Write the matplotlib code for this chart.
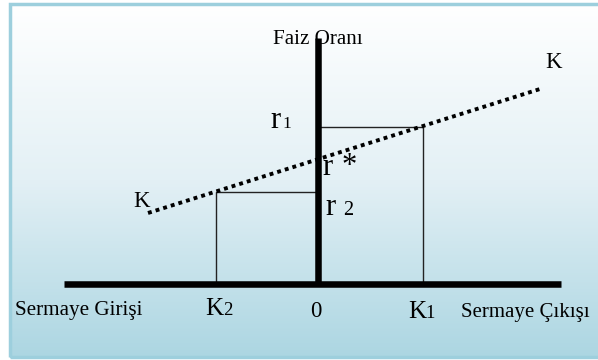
import numpy as np
import matplotlib.pyplot as plt
from matplotlib.colors import LinearSegmentedColormap
from matplotlib.patches import Rectangle

plt.rcParams['font.family'] = ['Liberation Serif', 'DejaVu Serif']

# sermaye hareketleri - faiz orani diyagrami (origin = 0 noktasi)
x_axis = [-254, 243]          # Sermaye Girisi <-> Sermaye Cikisi
y_axis = [0, 246]             # Faiz Orani
k_line_x = [-170, 222]        # K-K egrisi
k_line_y = [71, 195]
k1, r1 = 105, 157
k2, r2 = -102, 92

fig = plt.figure(figsize=(5.98, 3.6), dpi=100)
ax = fig.add_axes([0, 0, 1, 1])
ax.set_xlim(-318, 280)
ax.set_ylim(-76, 284)
ax.axis('off')

# arka plan: beyazdan acik maviye
cmap = LinearSegmentedColormap.from_list('bg', ['#ffffff', '#e3f0f5', '#acd6e2'])
grad = np.linspace(0, 1, 256).reshape(-1, 1)
ax.imshow(grad, cmap=cmap, aspect='auto', extent=(-308, 290, -73, 280),
          origin='upper', zorder=0)
ax.add_patch(Rectangle((-308, -73), 600, 353, fill=False, edgecolor='#9dcfdd',
                       linewidth=2.5, zorder=1, clip_on=True))

# eksenler
ax.plot(x_axis, [0, 0], color='black', linewidth=4.7, solid_capstyle='butt', zorder=3)
ax.plot([0, 0], y_axis, color='black', linewidth=4.7, solid_capstyle='butt', zorder=3)

# K egrisi
ax.plot(k_line_x, k_line_y, color='black', linewidth=2.8,
        linestyle=(0, (1, 1.05)), dash_capstyle='butt', zorder=4)

# K1 / r1 ve K2 / r2 kutulari
ax.plot([0, k1, k1], [r1, r1, 0], color='#222222', linewidth=1, zorder=2)
ax.plot([0, k2, k2], [r2, r2, 0], color='#222222', linewidth=1, zorder=2)

tx = dict(va='baseline', color='black', zorder=5)
ax.text(0, 240, 'Faiz Oranı', ha='center', fontsize=15.2, **tx)
ax.text(227, 216, 'K', ha='left', fontsize=16.5, **tx)
ax.text(-185, 77, 'K', ha='left', fontsize=16.5, **tx)

ax.text(-48, 156, 'r', ha='left', fontsize=22, **tx)
ax.text(-36, 156, '1', ha='left', fontsize=12.5, **tx)
ax.text(4, 109, 'r', ha='left', fontsize=22, **tx)
ax.text(24, 110, '*', ha='left', fontsize=22, **tx)
ax.text(7, 69, 'r', ha='left', fontsize=22, **tx)
ax.text(25, 69, '2', ha='left', fontsize=14.5, **tx)

ax.text(-303, -31, 'Sermaye Girişi', ha='left', fontsize=15.2, **tx)
ax.text(-113, -31, 'K', ha='left', fontsize=18, **tx)
ax.text(-95, -31, '2', ha='left', fontsize=13.5, **tx)
ax.text(-2, -33, '0', ha='center', fontsize=16.5, **tx)
ax.text(90, -34, 'K', ha='left', fontsize=18, **tx)
ax.text(107, -34, '1', ha='left', fontsize=13.5, **tx)
ax.text(143, -33, 'Sermaye Çıkışı', ha='left', fontsize=15, **tx)

fig.savefig('out.png', dpi=100)
